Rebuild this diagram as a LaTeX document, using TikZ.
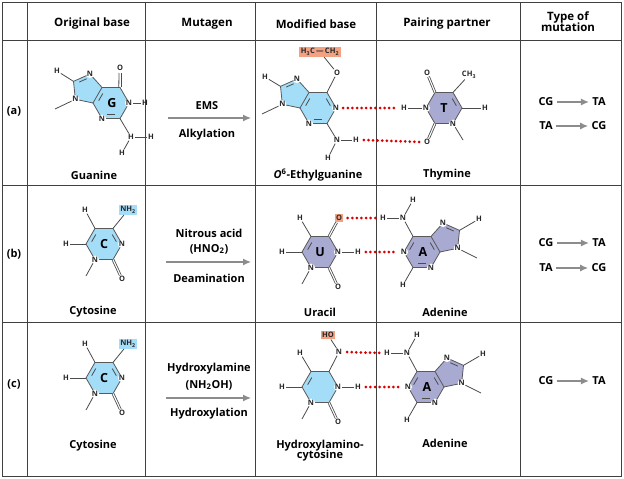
\documentclass[tikz,border=0pt]{standalone}
\usepackage{fontspec}
\setmainfont{Open Sans}
\usetikzlibrary{calc,arrows.meta}
\definecolor{gb}{HTML}{A4DDF7}
\definecolor{pp}{HTML}{A9AAD2}
\definecolor{sal}{HTML}{F2A283}
\tikzset{
 atom/.style={font=\fontsize{7.5}{8}\selectfont\bfseries, inner sep=0.8pt, text=black!85},
 ratom/.style={atom, circle, fill=white, inner sep=0pt},
 bond/.style={draw=black!70, line width=0.8pt},
 dbond/.style={bond, double=white, double distance=1.1pt},
 ring/.style={draw=black!65, line width=0.8pt},
 big/.style={font=\fontsize{12.5}{14}\selectfont\bfseries},
 hdr/.style={font=\fontsize{11.5}{13}\selectfont\bfseries, align=center},
 lab/.style={font=\fontsize{11}{13}\selectfont\bfseries, align=center},
 hb/.style={draw=red!85!black, line width=3pt, line cap=round, dash pattern=on 0pt off 4.6pt},
 grid/.style={draw=black!75, line width=0.8pt},
 garr/.style={draw=black!45, line width=1.2pt, -{Latex[length=8pt,width=7pt]}},
 boxed/.style={fill=#1, inner sep=1.5pt}
}
\newcommand\hexc{%
 \coordinate (c) at (0,0);
 \coordinate (v0) at (18,0); \coordinate (v60) at (9,15.59); \coordinate (v120) at (-9,15.59);
 \coordinate (v180) at (-18,0); \coordinate (v240) at (-9,-15.59); \coordinate (v300) at (9,-15.59);}
\newcommand\pentL{\coordinate (pc) at (-24.23,13.98); \coordinate (pa) at (-21.04,28.97);
 \coordinate (pb) at (-37.5,21.64); \coordinate (pd) at (-35.62,3.73);}
\newcommand\pentR{\coordinate (pc) at (24.23,13.98); \coordinate (pa) at (21.04,28.97);
 \coordinate (pb) at (37.5,21.64); \coordinate (pd) at (35.62,3.73);}
\newcommand\ib[3]{\draw[bond] ($ ($(#1)!.2!(#2)$)!.24!(#3) $) -- ($ ($(#2)!.2!(#1)$)!.24!(#3) $);}
\newcommand\purL[1]{%
 \fill[#1] (v0)--(v60)--(v120)--(pa)--(pb)--(pd)--(v180)--(v240)--(v300)--cycle;
 \draw[ring] (v0)--(v60)--(v120)--(pa)--(pb)--(pd)--(v180)--(v240)--(v300)--cycle (v120)--(v180);}
\newcommand\purR[1]{%
 \fill[#1] (v180)--(v120)--(v60)--(pa)--(pb)--(pd)--(v0)--(v300)--(v240)--cycle;
 \draw[ring] (v180)--(v120)--(v60)--(pa)--(pb)--(pd)--(v0)--(v300)--(v240)--cycle (v60)--(v0);}
\newcommand\hexring[1]{%
 \filldraw[#1, ring] (v0)--(v60)--(v120)--(v180)--(v240)--(v300)--cycle;}
\newcommand\adenine{%
 \hexc\pentR \purR{pp}
 \ib{v120}{v180}{c} \ib{v240}{v300}{c} \ib{v60}{v0}{c} \ib{pa}{pb}{pc}
 \node[ratom] (n1) at (v180) {N}; \node[ratom] (n3) at (v300) {N};
 \node[ratom] (n7) at (pa) {N}; \node[ratom] (n9) at (pd) {N};
 \node[big] at (1,0) {A};
 \node[atom] (n6) at (-19,34) {N}; \draw[bond] (v120)--(n6);
 \node[atom] (h6a) at (-9,52) {H}; \draw[bond] (n6)--(h6a);
 \node[atom] (h6b) at (-39,34) {H}; \draw[bond] (n6)--(h6b);
 \node[atom] (h2) at (-19,-33) {H}; \draw[bond] (v240)--(h2);
 \node[atom] (h8) at (57,33) {H}; \draw[bond] (pb)--(h8);
 \coordinate (m9) at (55,-6); \draw[bond] (n9)--(m9);}
\begin{document}
\begin{tikzpicture}[x=1pt,y=-1pt]
\useasboundingbox (0,0) rectangle (624,479);
\fill[white] (0,0) rectangle (624,479);
% grid
\draw[grid] (2,2) rectangle (621,476);
\foreach \x in {27,145,255,376,520} \draw[grid] (\x,2) -- (\x,476);
\foreach \y in {40,185,322} \draw[grid] (2,\y) -- (621,\y);
% headers
\node[hdr] (h1) at (92,24) {Original base};
\node[hdr] (h2) at (207,24) {Mutagen};
\node[hdr] (h3) at (316,24) {Modified base};
\node[hdr] (h4) at (447,24) {Pairing partner};
\node[hdr] (h5) at (568,22) {Type of\\[-2pt]mutation};
\node[lab] (ra) at (14,111) {(a)};
\node[lab] (rb) at (14,254) {(b)};
\node[lab] (rc) at (14,384) {(c)};
% names
\node[lab] (nG) at (94,175) {Guanine};
\node[lab] (nO) at (318,175) {\textit{O}\textsuperscript{6}-Ethylguanine};
\node[lab] (nT) at (447,175) {Thymine};
\node[lab] (nC1) at (93,312) {Cytosine};
\node[lab] (nU) at (320,312) {Uracil};
\node[lab] (nA1) at (445,312) {Adenine};
\node[lab] (nC2) at (93,446) {Cytosine};
\node[lab] (nH) at (320,451) {Hydroxylamino-\\[-3pt]cytosine};
\node[lab] (nA2) at (445,443) {Adenine};
% mutagens
\node[lab] (ma1) at (207,106) {EMS};
\node[lab] (ma2) at (207,135) {Alkylation};
\coordinate (aa1) at (168,118); \coordinate (aa2) at (251,118);
\draw[garr] (aa1) -- (aa2);
\node[lab] (mb1) at (209,233) {Nitrous acid};
\node[lab] (mb2) at (209,249) {(HNO\textsubscript{2})};
\node[lab] (mb3) at (209,278) {Deamination};
\coordinate (ab1) at (166,262); \coordinate (ab2) at (251,262);
\draw[garr] (ab1) -- (ab2);
\node[lab] (mc1) at (209,369) {Hydroxylamine};
\node[lab] (mc2) at (209,385) {(NH\textsubscript{2}OH)};
\node[lab] (mc3) at (209,414) {Hydroxylation};
\coordinate (ac1) at (166,398); \coordinate (ac2) at (251,398);
\draw[garr] (ac1) -- (ac2);
% mutation types
\node[lab] (t1a) at (546,102) {CG}; \node[lab] (t1b) at (599,102) {TA};
\draw[garr] (t1a) -- (t1b);
\node[lab] (t2a) at (546,126) {TA}; \node[lab] (t2b) at (599,126) {CG};
\draw[garr] (t2a) -- (t2b);
\node[lab] (t3a) at (546,243) {CG}; \node[lab] (t3b) at (599,243) {TA};
\draw[garr] (t3a) -- (t3b);
\node[lab] (t4a) at (546,268) {TA}; \node[lab] (t4b) at (599,268) {CG};
\draw[garr] (t4a) -- (t4b);
\node[lab] (t5a) at (546,381) {CG}; \node[lab] (t5b) at (599,381) {TA};
\draw[garr] (t5a) -- (t5b);
% ---- Guanine
\begin{scope}[shift={(111,103)},y=1pt,name prefix=g-]
\hexc\pentL \purL{gb}
\ib{pa}{pb}{pc} \ib{v120}{v180}{c} \ib{v300}{v240}{c}
\node[ratom] (n1) at (v0) {N}; \node[ratom] (n3) at (v240) {N};
\node[ratom] (n7) at (pa) {N}; \node[ratom] (n9) at (pd) {N};
\node[big] at (1,0) {G};
\node[atom] (o) at (9,35) {O};
\coordinate (o1) at (8,30); \coordinate (o2) at (10.2,30);
\coordinate (c61) at (7.8,15.6); \coordinate (c62) at (10.2,15.6);
\draw[bond] (c61) -- (o1); \draw[bond] (c62) -- (o2);
\node[atom] (h1) at (34,0) {H}; \draw[bond] (n1)--(h1);
\node[atom] (ha) at (20,-34) {H}; \node[atom] (hb) at (40,-34) {H}; \node[atom] (hc) at (11,-50) {H};
\draw[bond] (v300)--(ha); \draw[bond] (ha)--(hb); \draw[bond] (ha)--(hc);
\node[atom] (h8) at (-54,32) {H}; \draw[bond] (pb)--(h8);
\coordinate (m9) at (-56,-6); \draw[bond] (n9)--(m9);
\end{scope}
% ---- O6-ethylguanine
\begin{scope}[shift={(318,108)},y=1pt,name prefix=e-]
\hexc\pentL \purL{gb}
\ib{pa}{pb}{pc} \ib{v120}{v180}{c} \ib{v300}{v240}{c} \ib{v60}{v0}{c}
\node[ratom] (n1) at (v0) {N}; \node[ratom] (n3) at (v240) {N};
\node[ratom] (n7) at (pa) {N}; \node[ratom] (n9) at (pd) {N};
\node[atom] (o) at (19,35) {O}; \draw[bond] (v60) -- (o);
\node[atom, boxed=sal] (et) at (2,56) {H\textsubscript{3}C\,—\,CH\textsubscript{2}}; \draw[bond] (o)--(et);
\node[atom] (n2) at (19,-32) {N}; \draw[bond] (v300)--(n2);
\node[atom] (h2) at (38,-32) {H}; \draw[bond] (n2)--(h2);
\node[atom] (h2b) at (10,-50) {H}; \draw[bond] (n2)--(h2b);
\node[atom] (h8) at (-53,31) {H}; \draw[bond] (pb)--(h8);
\coordinate (m9) at (-56,-6); \draw[bond] (n9)--(m9);
\end{scope}
% ---- Thymine
\begin{scope}[shift={(444,108)},y=1pt,name prefix=t-]
\hexc \hexring{pp}
\ib{v60}{v0}{c}
\node[ratom] (n3) at (v180) {N}; \node[ratom] (n1) at (v300) {N};
\node[big] at (0,0) {T};
\node[atom] (o4) at (-17,35) {O}; \draw[dbond] (v120)--(o4);
\node[atom] (me) at (25,33) {CH\textsubscript{3}}; \draw[bond] (v60)--(me);
\node[atom] (h6) at (41,0) {H}; \draw[bond] (v0)--(h6);
\coordinate (m1) at (19,-32); \draw[bond] (n1)--(m1);
\node[atom] (o2) at (-17,-34) {O}; \draw[dbond] (v240)--(o2);
\node[atom] (h3) at (-40,0) {H}; \draw[bond] (n3)--(h3);
\end{scope}
\draw[hb] ([xshift=3pt]e-n1.east) -- ([xshift=-3pt]t-h3.west);
\draw[hb] ([xshift=4pt]e-h2.east) -- ([xshift=-3pt]t-o2.west);
% ---- Cytosine (b)
\begin{scope}[shift={(104,244)},y=1pt,name prefix=c1-]
\hexc \hexring{gb}
\ib{v120}{v180}{c} \ib{v60}{v0}{c}
\node[ratom] (n3) at (v0) {N}; \node[ratom] (n1) at (v240) {N};
\node[big] at (0,0) {C};
\node[atom, boxed=gb] (nh) at (24,34) {NH\textsubscript{2}}; \draw[bond] (v60)--(nh);
\node[atom] (h5) at (-19,34) {H}; \draw[bond] (v120)--(h5);
\node[atom] (h6) at (-38,0) {H}; \draw[bond] (v180)--(h6);
\coordinate (m1) at (-18,-32); \draw[bond] (n1)--(m1);
\node[atom] (o2) at (18,-35) {O}; \draw[dbond] (v300)--(o2);
\end{scope}
% ---- Cytosine (c)
\begin{scope}[shift={(104,378)},y=1pt,name prefix=c2-]
\hexc \hexring{gb}
\ib{v120}{v180}{c} \ib{v60}{v0}{c}
\node[ratom] (n3) at (v0) {N}; \node[ratom] (n1) at (v240) {N};
\node[big] at (0,0) {C};
\node[atom, boxed=gb] (nh) at (24,34) {NH\textsubscript{2}}; \draw[bond] (v60)--(nh);
\node[atom] (h5) at (-19,34) {H}; \draw[bond] (v120)--(h5);
\node[atom] (h6) at (-38,0) {H}; \draw[bond] (v180)--(h6);
\coordinate (m1) at (-18,-32); \draw[bond] (n1)--(m1);
\node[atom] (o2) at (18,-35) {O}; \draw[dbond] (v300)--(o2);
\end{scope}
% ---- Uracil
\begin{scope}[shift={(320,252)},y=1pt,name prefix=u-]
\hexc \hexring{pp}
\ib{v120}{v180}{c}
\node[ratom] (n3) at (v0) {N}; \node[ratom] (n1) at (v240) {N};
\node[big] at (0,0) {U};
\node[atom, boxed=sal] (o4) at (19,34) {O}; \draw[dbond] (v60)--(o4);
\node[atom] (h3) at (38,0) {H}; \draw[bond] (n3)--(h3);
\node[atom] (h5) at (-20,34) {H}; \draw[bond] (v120)--(h5);
\node[atom] (h6) at (-38,0) {H}; \draw[bond] (v180)--(h6);
\coordinate (m1) at (-18,-32); \draw[bond] (n1)--(m1);
\node[atom] (o2) at (18,-35) {O}; \draw[dbond] (v300)--(o2);
\end{scope}
\begin{scope}[shift={(422,252)},y=1pt,name prefix=a1-]
\adenine
\end{scope}
\draw[hb] ([xshift=4pt]u-o4.east) -- ([xshift=-3pt]a1-h6b.west);
\draw[hb] ([xshift=4pt]u-h3.east) -- ([xshift=-2pt]a1-n1.west);
% ---- Hydroxylaminocytosine
\begin{scope}[shift={(320,387)},y=1pt,name prefix=x-]
\hexc \hexring{gb}
\ib{v120}{v180}{c}
\node[ratom] (n3) at (v0) {N}; \node[ratom] (n1) at (v240) {N};
\node[atom] (n4) at (19,35) {N}; \draw[bond] (v60)--(n4);
\node[atom, boxed=sal] (ho) at (8,52) {HO}; \draw[bond] (n4)--(ho);
\node[atom] (h3) at (38,0) {H}; \draw[bond] (n3)--(h3);
\node[atom] (h5) at (-20,34) {H}; \draw[bond] (v120)--(h5);
\node[atom] (h6) at (-38,0) {H}; \draw[bond] (v180)--(h6);
\coordinate (m1) at (-18,-32); \draw[bond] (n1)--(m1);
\node[atom] (o2) at (18,-35) {O}; \draw[dbond] (v300)--(o2);
\end{scope}
\begin{scope}[shift={(426,387)},y=1pt,name prefix=a2-]
\adenine
\end{scope}
\draw[hb] ([xshift=4pt]x-n4.east) -- ([xshift=-3pt]a2-h6b.west);
\draw[hb] ([xshift=4pt]x-h3.east) -- ([xshift=-2pt]a2-n1.west);
\end{tikzpicture}
\end{document}
